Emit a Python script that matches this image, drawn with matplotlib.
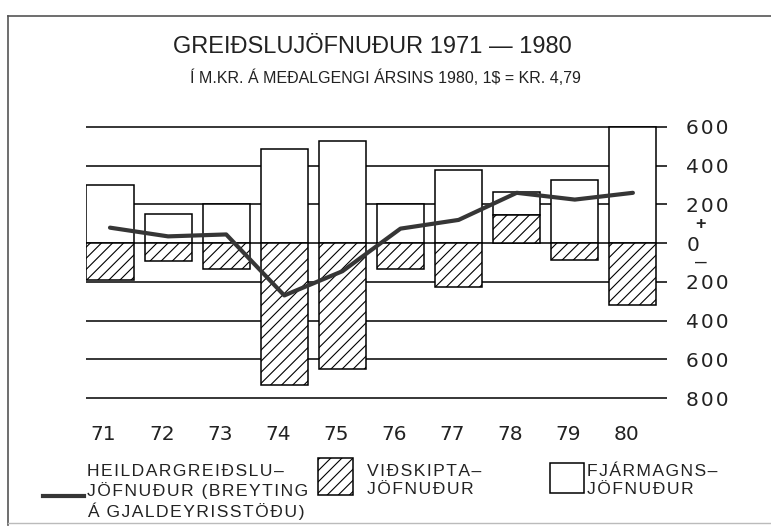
import numpy as np
import matplotlib
matplotlib.use("Agg")
import matplotlib.pyplot as plt
from matplotlib.patches import Rectangle
from matplotlib.lines import Line2D

# greiðslujöfnuður 1971-1980, m.kr.
years = ["71", "72", "73", "74", "75", "76", "77", "78", "79", "80"]
vidskipta = [-190, -90, -135, -730, -650, -135, -225, 145, -85, -320]   # hatched
fjarmagns = [300, 150, 200, 485, 525, 200, 380, 120, 325, 600]          # white
heild = [80, 35, 45, -270, -145, 75, 120, 260, 225, 260]                # line
yticks = [600, 400, 200, 0, -200, -400, -600, -800]
ytick_labels = ["600", "400", "200", "0", "200", "400", "600", "800"]

W, H = 771, 527
plt.rcParams["hatch.linewidth"] = 0.8
plt.rcParams["font.family"] = ["Liberation Sans", "DejaVu Sans"]

def fx(x):
    return x / W
def fy(y):
    return 1 - y / H

def spaced(s):
    # wide letter spacing like the printed original
    return "\n".join("\u200a".join(line) for line in s.split("\n"))

fig = plt.figure(figsize=(W / 100, H / 100), dpi=100)
ax = fig.add_axes([fx(86), fy(400), (667 - 86) / W, 280 / H])

x = np.arange(len(years))
wd = 0.81
for v in yticks:
    ax.axhline(v, color="black", lw=1.1, zorder=0)

cur = np.array(vidskipta)
bottoms = np.where(cur > 0, cur, 0)
ax.bar(x, fjarmagns, wd, bottom=bottoms, color="white", edgecolor="black",
       lw=1.1, zorder=2)
ax.bar(x, vidskipta, wd, color="white", edgecolor="black", hatch="///",
       lw=1.1, zorder=3)
ax.plot(x, heild, color="#363636", lw=3.0, solid_capstyle="round",
        solid_joinstyle="round", zorder=4)

ax.set_xlim(-0.413, 9.587)
ax.set_ylim(-810, 636)
for s in ax.spines.values():
    s.set_visible(False)
ax.set_xticks([])
ax.yaxis.tick_right()
ax.set_yticks(yticks)
ax.set_yticklabels([spaced(t) for t in ytick_labels], family="DejaVu Sans",
                   fontsize=14.5, color="#222222")
ax.tick_params(axis="y", length=0, pad=14)

for i, lab in enumerate(years):
    ax.text(i - 0.33, -0.125, lab, transform=ax.get_xaxis_transform(),
            ha="left", va="center", family="DejaVu Sans", fontsize=14.5,
            color="#222222")

tr = ax.get_yaxis_transform()
ax.text(1.0585, 94, "+", transform=tr, ha="center", va="center",
        fontsize=13, color="#222222", fontweight="bold")
ax.text(1.0585, -97, "\u2013", transform=tr, ha="center", va="center",
        fontsize=15, color="#222222")

fig.text(fx(372), fy(47), "GREIÐSLUJÖFNUÐUR 1971 \u2014 1980", ha="center",
         va="center", fontsize=17, color="#222222")
fig.text(fx(385), fy(78), "Í M.KR. Á MEÐALGENGI ÁRSINS 1980, 1$ = KR. 4,79",
         ha="center", va="center", fontsize=11.5, color="#222222")

# legend
fig.add_artist(Line2D([fx(43), fx(84)], [fy(496), fy(496)], color="#363636",
                      lw=3.0))
fig.text(fx(87), fy(492), spaced("HEILDARGREIÐSLU\u2013\nJÖFNUÐUR (BREYTING\nÁ GJALDEYRISSTÖÐU)"),
         ha="left", va="center", fontsize=12.6, linespacing=1.25, color="#222222")
fig.add_artist(Rectangle((fx(318), fy(495)), 35 / W, 37 / H,
                         transform=fig.transFigure, facecolor="white",
                         edgecolor="black", hatch="///", lw=1.1))
fig.text(fx(367), fy(481), spaced("VIÐSKIPTA\u2013\nJÖFNUÐUR"), ha="left",
         va="center", fontsize=12.6, linespacing=1.25, color="#222222")
fig.add_artist(Rectangle((fx(550), fy(493)), 34 / W, 30 / H,
                         transform=fig.transFigure, facecolor="white",
                         edgecolor="black", lw=1.1))
fig.text(fx(587), fy(481), spaced("FJÁRMAGNS\u2013\nJÖFNUÐUR"), ha="left",
         va="center", fontsize=12.6, linespacing=1.25, color="#222222")

# outer frame
fig.add_artist(Line2D([fx(8), fx(8)], [fy(16), fy(525)], color="#555555", lw=1.2))
fig.add_artist(Line2D([fx(8), 1], [fy(16), fy(16)], color="#555555", lw=1.2))
fig.add_artist(Line2D([fx(8), 1], [fy(523), fy(523)], color="#bbbbbb", lw=1.0))

fig.savefig("out.png", dpi=100)
